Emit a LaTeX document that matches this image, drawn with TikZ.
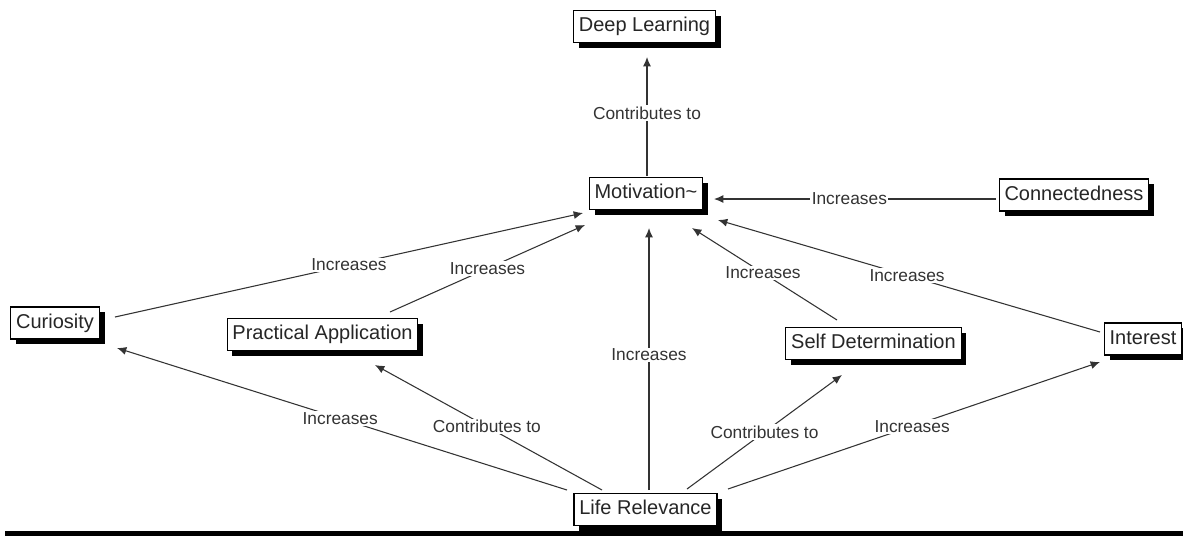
\documentclass[tikz,border=0pt]{standalone}
\usepackage{fontspec}
\setmainfont{Liberation Sans}
\usetikzlibrary{arrows.meta,shadows,calc}
\begin{document}
\begin{tikzpicture}[x=0.75pt,y=-0.75pt,
  box/.style={draw=black, line width=0.8pt, fill=white, text=black!85,
    font=\fontsize{15}{18}\selectfont, inner xsep=4pt, inner ysep=0pt,
    minimum height=24pt, text height=11pt, text depth=3pt,
    drop shadow={shadow xshift=4pt, shadow yshift=-4pt, fill=black, opacity=1}},
  lbl/.style={fill=white, inner sep=1pt, font=\fontsize{13}{15}\selectfont, text=black!80},
  conn/.style={draw=black!80, line width=0.8pt},
  arr/.style={conn, -{Latex[length=7pt,width=6pt]}}]
\useasboundingbox (0,0) rectangle (1183,537);

% nodes
\node[box] (Deep) at (644.5,26.5) {Deep Learning};
\node[box] (Mot)  at (646,193.5) {Motivation\textasciitilde};
\node[box] (Conn) at (1074,195) {Connectedness};
\node[box] (Cur)  at (55,323) {Curiosity};
\node[box] (Prac) at (322.5,334.5) {Practical Application};
\node[box] (Self) at (873.5,343.5) {Self Determination};
\node[box] (Int)  at (1143,339) {Interest};
\node[box] (Life) at (645.5,509.5) {Life Relevance};

% bottom bar
\fill[black] (5,531) rectangle (1183,536);

% connectors
\draw[arr] ($(Mot.center)+(1,-17.5)$) -- node[lbl,pos=0.53] (l1) {Contributes to} ($(Deep.center)+(2.5,30.5)$);
\draw[arr] ($(Conn.center)+(-78,4)$) -- node[lbl,pos=0.52] (l2) {Increases} ($(Mot.center)+(68,5.5)$);
\draw[arr] ($(Cur.center)+(60,-6)$) -- node[lbl,pos=0.5] (l3) {Increases} ($(Mot.center)+(-63,19.5)$);
\draw[arr] ($(Prac.center)+(67.5,-22.5)$) -- node[lbl,pos=0.5] (l4) {Increases} ($(Mot.center)+(-61,31.5)$);
\draw[arr] ($(Life.center)+(3.5,-19.5)$) -- node[lbl,pos=0.515] (l5) {Increases} ($(Mot.center)+(3,34.5)$);
\draw[arr] ($(Self.center)+(-36.5,-23.5)$) -- node[lbl,pos=0.51] (l6) {Increases} ($(Mot.center)+(46,34.5)$);
\draw[arr] ($(Int.center)+(-43,-7)$) -- node[lbl,pos=0.505] (l7) {Increases} ($(Mot.center)+(72,26.5)$);
\draw[arr] ($(Life.center)+(-78.5,-19.5)$) -- node[lbl,pos=0.504] (l8) {Increases} ($(Cur.center)+(62,25)$);
\draw[arr] ($(Life.center)+(-43.5,-19.5)$) -- node[lbl,pos=0.507] (l9) {Contributes to} ($(Prac.center)+(52.5,30.5)$);
\draw[arr] ($(Life.center)+(41.5,-20.5)$) -- node[lbl,pos=0.5] (l10) {Contributes to} ($(Self.center)+(-31.5,31.5)$);
\draw[arr] ($(Life.center)+(82.5,-20.5)$) -- node[lbl,pos=0.495] (l11) {Increases} ($(Int.center)+(-43,23)$);
\end{tikzpicture}
\end{document}
